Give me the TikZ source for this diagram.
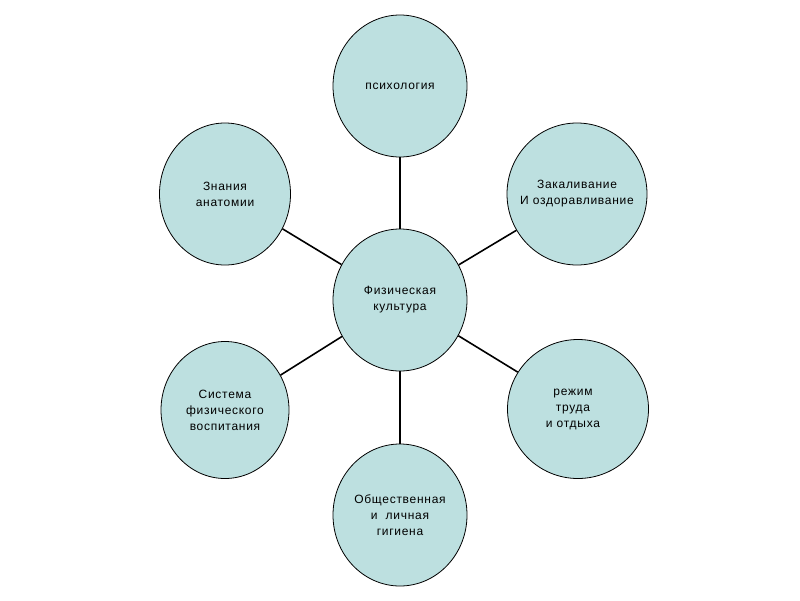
\documentclass[tikz,border=0pt]{standalone}
\usepackage{fontspec}
\setmainfont{Liberation Sans}[LetterSpace=6]
\usetikzlibrary{shapes.geometric}
\definecolor{bubfill}{RGB}{189,224,224}

\begin{document}
\begin{tikzpicture}[
  x=1pt,y=-1pt,
  bub/.style={ellipse,draw,line width=0.8pt,fill=bubfill,inner sep=0pt,
              minimum width=134pt,minimum height=142pt},
  txt/.style={align=center,font=\fontsize{12}{16}\selectfont},
  link/.style={line width=1.6pt},
]
\useasboundingbox (0,0) rectangle (800,600);

% --- hub and the six topics around it ---
\node[bub]                     (fk)   at (400,300) {};
\node[bub]                     (psy)  at (400, 86) {};
\node[bub,minimum width=131pt] (anat) at (225,194) {};
\node[bub,minimum width=140pt] (zak)  at (577,194) {};
\node[bub,minimum width=128pt,minimum height=137pt] (sys) at (225,410) {};
\node[bub,minimum width=141pt,minimum height=139pt] (rez) at (578,409) {};
\node[bub]                     (gig)  at (400,515) {};

% --- connectors from the hub ---
\foreach \t in {psy,anat,zak,sys,rez,gig}
  \draw[link] (fk) -- (\t);

% --- texts ---
\node[txt] (tfk)   at (fk)   {Физическая\\культура};
\node[txt] (tpsy)  at (psy)  {психология};
\node[txt] (tanat) at (anat) {Знания\\анатомии};
\node[txt] (tzak)  at (zak)  {Закаливание\\И оздоравливание};
\node[txt] (tsys)  at (sys)  {Система\\физического\\воспитания};
\node[txt] (trez)  at ([xshift=-5pt]rez.center) {режим\\труда\\и отдыха};
\node[txt] (tgig)  at (gig)  {Общественная\\и\ \ личная\\гигиена};

\end{tikzpicture}
\end{document}
